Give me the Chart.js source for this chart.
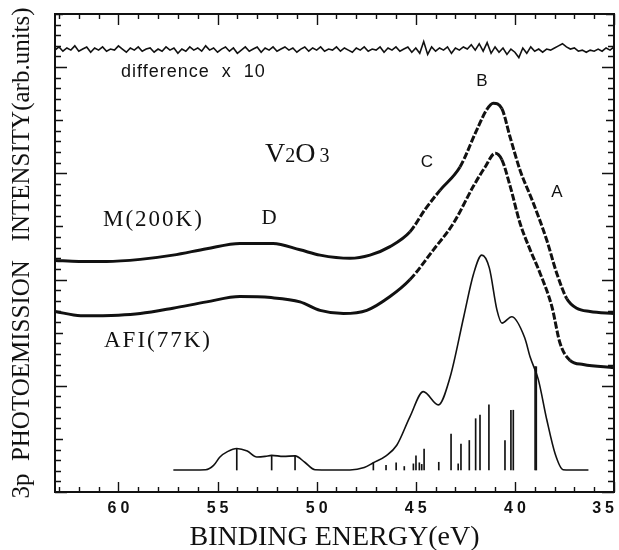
<!DOCTYPE html>
<html>
<head>
<meta charset="utf-8">
<script src="https://cdn.jsdelivr.net/npm/chart.js@4.4.1/dist/chart.umd.min.js"></script>
<style>
  html, body { margin: 0; padding: 0; background: #fff; }
</style>
</head>
<body>
<canvas id="chart-v2o3" width="619" height="550"></canvas>
<script>
// V2O3 3p photoemission spectra.
// y is in plot units: 0 on the bottom axis, 45 at the top frame.

const xTickLabels = [60, 55, 50, 45, 40, 35];

const diffEnergy = [
  63.2, 63.0, 62.8, 62.6, 62.4, 62.2, 62.0, 61.8, 61.6, 61.4, 61.2, 61.0, 60.8, 60.6, 60.4, 60.2,
  60.0, 59.8, 59.6, 59.4, 59.2, 59.0, 58.8, 58.6, 58.4, 58.2, 58.0, 57.8, 57.6, 57.4, 57.2, 57.0,
  56.8, 56.6, 56.4, 56.2, 56.0, 55.8, 55.6, 55.4, 55.2, 55.0, 54.8, 54.6, 54.4, 54.2, 54.0, 53.8,
  53.6, 53.4, 53.2, 53.0, 52.8, 52.6, 52.4, 52.2, 52.0, 51.8, 51.6, 51.4, 51.2, 51.0, 50.8, 50.6,
  50.4, 50.2, 50.0, 49.8, 49.6, 49.4, 49.2, 49.0, 48.8, 48.6, 48.4, 48.2, 48.0, 47.8, 47.6, 47.4,
  47.2, 47.0, 46.8, 46.6, 46.4, 46.2, 46.0, 45.8, 45.6, 45.4, 45.2, 45.0, 44.8, 44.6, 44.4, 44.2,
  44.0, 43.8, 43.6, 43.4, 43.2, 43.0, 42.8, 42.6, 42.4, 42.2, 42.0, 41.8, 41.6, 41.4, 41.2, 41.0,
  40.8, 40.6, 40.4, 40.2, 40.0, 39.8, 39.6, 39.4, 39.2, 39.0, 38.8, 38.6, 38.4, 38.2, 38.0, 37.8,
  37.6, 37.4, 37.2, 37.0, 36.8, 36.6, 36.4, 36.2, 36.0, 35.8, 35.6, 35.4, 35.2, 35.0
];
const diffValues = [
  41.6, 41.9, 41.5, 41.8, 41.6, 42.0, 41.5, 41.7, 41.9, 41.4, 41.8, 41.6, 41.9, 41.5, 41.7, 41.6,
  42.0, 41.7, 41.4, 41.8, 41.6, 41.9, 41.5, 41.7, 41.8, 41.4, 41.7, 41.5, 41.9, 41.6, 41.8, 41.3,
  41.7, 41.5, 41.9, 41.6, 41.8, 41.5, 42.0, 41.6, 41.8, 41.4, 41.7, 41.9, 41.5, 41.8, 41.3, 41.6,
  41.9, 41.5, 41.7, 41.9, 41.4, 41.8, 41.6, 41.9, 41.5, 41.7, 41.9, 41.6, 41.8, 41.4, 41.7, 41.9,
  41.5, 41.8, 41.6, 41.9, 41.5, 41.7, 41.6, 41.9, 41.5, 41.8, 41.6, 41.4, 41.8, 41.6, 41.9, 41.5,
  41.7, 41.6, 41.9, 41.4, 41.8, 41.6, 41.9, 41.5, 41.7, 41.9, 41.4, 41.8, 41.3, 42.4, 41.2, 41.9,
  41.5, 41.8, 41.6, 41.9, 41.3, 41.8, 41.6, 41.9, 41.7, 42.1, 41.6, 42.2, 41.5, 42.3, 41.3, 41.9,
  41.4, 41.8, 41.2, 41.7, 41.4, 40.9, 41.8, 41.3, 41.9, 41.5, 41.7, 41.4, 41.7, 41.6, 41.8, 42.0,
  42.2, 41.9, 41.7, 41.8, 41.5, 41.6, 41.4, 41.6, 41.5, 41.7, 41.5, 41.8, 41.6, 41.9
];

const mEnergy = [
  63.2, 62.0, 60.6, 58.9, 57.25, 55.55, 53.87, 52.2, 50.84, 49.83, 48.32, 47.31, 46.3, 45.29, 44.53,
  43.78, 42.77, 41.92, 41.42, 41.09, 40.66, 40.24, 39.74, 39.07, 38.39, 37.89, 37.38, 36.88, 36.21, 35.0
];
const mIntensity = [
  21.8, 21.7, 21.7, 21.9, 22.3, 22.9, 23.4, 23.4, 22.8, 22.3, 22.0, 22.3, 23.1, 24.5, 26.6,
  28.4, 30.6, 34.1, 36.0, 36.6, 36.1, 33.4, 30.3, 27.2, 23.7, 20.6, 18.2, 17.3, 17.0, 16.8
];

const afiEnergy = [
  63.2, 61.9, 60.0, 58.9, 57.25, 55.55, 53.87, 52.3, 50.84, 49.83, 48.65, 47.47, 46.3, 45.29, 44.11,
  43.1, 42.09, 41.5, 40.99, 40.66, 40.24, 39.74, 39.23, 38.73, 38.14, 37.72, 37.22, 36.55, 35.0
];
const afiIntensity = [
  17.0, 16.6, 16.65, 16.8, 17.3, 17.9, 18.4, 18.3, 17.9, 17.1, 16.8, 17.1, 18.4, 20.0, 22.8,
  25.3, 28.8, 30.6, 31.9, 31.3, 28.8, 25.3, 22.8, 20.6, 17.5, 14.0, 12.4, 12.0, 11.7
];

// calculated spectrum (broadened) and its line strengths
const simEnergy = [
  57.23, 55.6, 55.2, 54.88, 54.5, 54.03, 53.5, 53.02, 52.6, 52.27, 51.68, 51.09, 50.6, 50.08, 48.32,
  47.6, 47.14, 46.5, 45.96, 45.29, 44.62, 43.86, 43.27, 42.58, 42.09, 41.67, 41.29, 40.9, 40.65,
  40.16, 39.5, 39.23, 38.82, 38.39, 37.97, 37.57, 37.2, 36.29
];
const simIntensity = [
  2.07, 2.1, 2.5, 3.3, 3.8, 4.1, 3.85, 3.3, 3.35, 3.45, 3.35, 3.4, 2.8, 2.1, 2.07,
  2.3, 2.75, 3.4, 4.4, 7.1, 9.45, 8.2, 10.8, 16.5, 20.5, 22.3, 21.1, 17.1, 15.9,
  16.5, 14.5, 12.7, 10.6, 6.8, 3.6, 2.1, 2.07, 2.07
];

const stickBase = 2.07;
const stickEnergy = [
  54.03, 52.27, 51.09, 47.14, 46.5, 45.99, 45.58, 45.12, 44.99, 44.82, 44.7, 44.58, 43.84,
  43.22, 42.86, 42.72, 42.3, 41.98, 41.76, 41.31, 40.5, 40.2, 40.08, 38.98, 38.92
];
const stickTop = [
  4.1, 3.45, 3.4, 2.75, 2.5, 2.75, 2.4, 2.65, 3.4, 2.75, 2.6, 4.05, 2.8,
  5.45, 2.65, 4.5, 4.85, 6.9, 7.25, 8.2, 4.85, 7.7, 7.7, 11.8, 11.8
];

const ink = '#111111';
const serif = "'Liberation Serif', 'DejaVu Serif', serif";
const sans = "'Liberation Sans', Arial, sans-serif";

const toPoints = (xs, ys) => xs.map((x, i) => ({ x, y: ys[i] }));

// steep stretches of the measured curves look broken up in the original
const steepDash = ctx => {
  const dx = Math.abs(ctx.p1.x - ctx.p0.x);
  const dy = Math.abs(ctx.p1.y - ctx.p0.y);
  return dy > dx * 1.2 ? [7, 2] : undefined;
};

function drawText(ctx, text, x, y, font, opts = {}) {
  ctx.font = font;
  ctx.letterSpacing = opts.spacing || '0px';
  ctx.textAlign = opts.align || 'center';
  ctx.textBaseline = opts.baseline || 'middle';
  ctx.fillText(text, x, y);
}

const paperFrame = {
  id: 'paperFrame',
  afterDraw(chart) {
    const { ctx, chartArea: a } = chart;
    const xs = chart.scales.x;
    const ys = chart.scales.y;
    ctx.save();
    ctx.strokeStyle = ink;
    ctx.fillStyle = ink;

    // inward ticks on all four sides
    ctx.lineWidth = 1.4;
    ctx.beginPath();
    for (let e = 35; e <= 63; e++) {
      const px = Math.round(xs.getPixelForValue(e)) + 0.5;
      const major = e % 5 === 0;
      ctx.moveTo(px, a.bottom);
      ctx.lineTo(px, a.bottom - (major ? 10 : 5));
      ctx.moveTo(px, a.top);
      ctx.lineTo(px, a.top + (major ? 11 : 5));
    }
    for (let v = 0; v <= 45; v++) {
      const py = Math.round(ys.getPixelForValue(v)) + 0.5;
      const len = v % 10 === 0 ? 12 : v % 5 === 0 ? 8 : 6;
      ctx.moveTo(a.left, py);
      ctx.lineTo(a.left + len, py);
      ctx.moveTo(a.right, py);
      ctx.lineTo(a.right - len, py);
    }
    ctx.stroke();
    ctx.lineWidth = 2;
    ctx.strokeRect(a.left, a.top, a.right - a.left, a.bottom - a.top);

    // x tick labels, spaced out like the original lettering
    const tickFont = 'bold 16px ' + sans;
    ctx.font = tickFont;
    ctx.letterSpacing = '4px';
    xTickLabels.forEach(v => {
      const label = String(v);
      const w = ctx.measureText(label).width;
      let px = xs.getPixelForValue(v) + 2;
      if (px + w / 2 > chart.width - 1) px = chart.width - 1 - w / 2;
      drawText(ctx, label, px, a.bottom + 17, tickFont, { spacing: '4px' });
    });

    drawText(ctx, 'BINDING ENERGY(eV)', (a.left + a.right) / 2, 538, '28px ' + serif);

    ctx.save();
    ctx.translate(22, (a.top + a.bottom) / 2);
    ctx.rotate(-Math.PI / 2);
    drawText(ctx, '3p  PHOTOEMISSION   INTENSITY(arb.units)', 0, 0, '25px ' + serif);
    ctx.restore();

    // annotations inside the plot
    drawText(ctx, 'difference  x  10', 121, 72, '18px ' + sans, { align: 'left', spacing: '1px' });
    drawText(ctx, 'B', 482, 81, '17px ' + sans);
    drawText(ctx, 'C', 427, 162, '17px ' + sans);
    drawText(ctx, 'A', 557, 192, '17px ' + sans);
    drawText(ctx, 'D', 269, 218, '21px ' + serif);
    drawText(ctx, 'M(200K)', 103, 220, '23px ' + serif, { align: 'left', spacing: '2px' });
    drawText(ctx, 'AFI(77K)', 104, 341, '23px ' + serif, { align: 'left', spacing: '2px' });

    // V2O3 with small digits
    let vx = 265;
    const vb = 162;
    [['V', 28], ['2', 20], ['O', 28], [' ', 16], ['3', 20]].forEach(([t, size]) => {
      ctx.font = size + 'px ' + serif;
      ctx.letterSpacing = '0px';
      ctx.textAlign = 'left';
      ctx.textBaseline = 'alphabetic';
      ctx.fillText(t, vx, vb);
      vx += ctx.measureText(t).width;
    });

    ctx.restore();
  }
};

const lineBase = {
  type: 'line',
  borderColor: ink,
  pointRadius: 0,
  fill: false,
};

new Chart(document.getElementById('chart-v2o3'), {
  type: 'line',
  data: {
    datasets: [
      {
        ...lineBase,
        label: 'difference x 10',
        data: toPoints(diffEnergy, diffValues),
        borderWidth: 1.6,
        tension: 0,
      },
      {
        ...lineBase,
        label: 'M(200K)',
        data: toPoints(mEnergy, mIntensity),
        borderWidth: 3,
        cubicInterpolationMode: 'monotone',
        segment: { borderDash: steepDash },
      },
      {
        ...lineBase,
        label: 'AFI(77K)',
        data: toPoints(afiEnergy, afiIntensity),
        borderWidth: 3,
        cubicInterpolationMode: 'monotone',
        segment: { borderDash: steepDash },
      },
      {
        ...lineBase,
        label: 'calculation',
        data: toPoints(simEnergy, simIntensity),
        borderWidth: 1.6,
        cubicInterpolationMode: 'monotone',
      },
      {
        type: 'bar',
        label: 'lines',
        data: stickEnergy.map((x, i) => ({ x, y: [stickBase, stickTop[i]] })),
        backgroundColor: ink,
        borderWidth: 0,
        barThickness: 1,
        grouped: false,
      },
    ],
  },
  options: {
    responsive: false,
    animation: false,
    devicePixelRatio: 1,
    layout: { padding: { left: 55, right: 5, top: 14, bottom: 58 } },
    plugins: { legend: { display: false }, tooltip: { enabled: false } },
    scales: {
      x: { type: 'linear', reverse: true, min: 35, max: 63.2, offset: false, display: false },
      y: { type: 'linear', min: 0, max: 45, display: false },
    },
  },
  plugins: [paperFrame],
});
</script>
</body>
</html>
